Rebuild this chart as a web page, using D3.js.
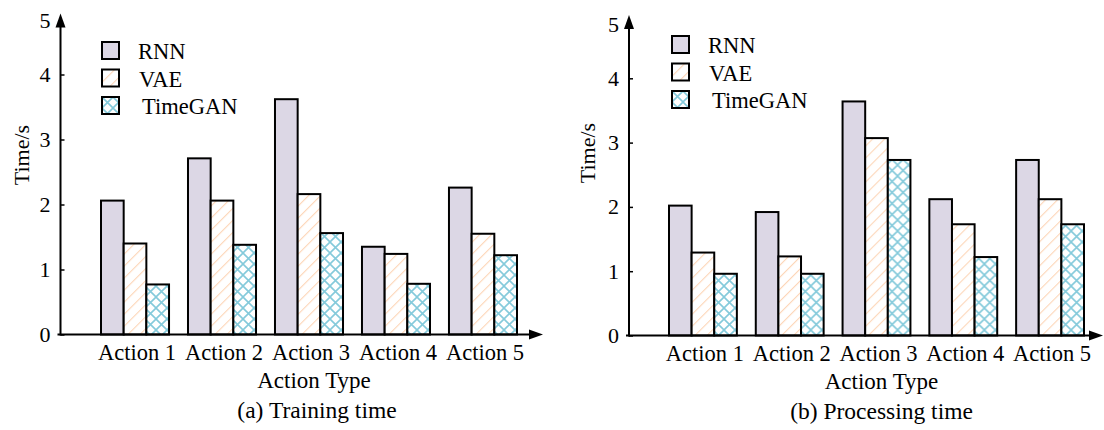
<!DOCTYPE html>
<html>
<head>
<meta charset="utf-8">
<script src="https://cdn.jsdelivr.net/npm/d3@7"></script>
<style>
    body { margin: 0; background: #fff; }
    svg { display: block; font-family: "Liberation Serif", "Times New Roman", serif; }
    text { fill: #000; }
</style>
</head>
<body>
<svg width="1104" height="430"></svg>
<script>
const svg = d3.select("svg")

// data
const actions = ["Action 1", "Action 2", "Action 3", "Action 4", "Action 5"]
const seriesNames = ["RNN", "VAE", "TimeGAN"]
const yTicks = [0, 1, 2, 3, 4, 5]

const trainRNN = [2.06, 2.71, 3.62, 1.35, 2.26]
const trainVAE = [1.40, 2.06, 2.16, 1.24, 1.55]
const trainGAN = [0.77, 1.38, 1.56, 0.78, 1.22]

const procRNN = [2.02, 1.92, 3.64, 2.12, 2.73]
const procVAE = [1.29, 1.23, 3.07, 1.73, 2.12]
const procGAN = [0.96, 0.96, 2.73, 1.22, 1.73]

const fills = ["#dcd7e5", "url(#hatchVAE)", "url(#hatchGAN)"]

// patterns
const defs = svg.append("defs")

const hv = defs.append("pattern")
    .attr("id", "hatchVAE")
    .attr("patternUnits", "userSpaceOnUse")
    .attr("width", 8.5)
    .attr("height", 8.5)
    .attr("patternTransform", "rotate(45)")
hv.append("rect").attr("width", 8.5).attr("height", 8.5).attr("fill", "#fff")
hv.append("line")
    .attr("x1", 0).attr("y1", 0).attr("x2", 0).attr("y2", 8.5)
    .attr("stroke", "#fdd6b8").attr("stroke-width", 2.2)

const hg = defs.append("pattern")
    .attr("id", "hatchGAN")
    .attr("patternUnits", "userSpaceOnUse")
    .attr("width", 11)
    .attr("height", 11)
hg.append("rect").attr("width", 11).attr("height", 11).attr("fill", "#fff")
hg.append("path")
    .attr("d", "M0,0L11,11M11,0L0,11")
    .attr("stroke", "#84cadb").attr("stroke-width", 1.6).attr("fill", "none")

function drawPanel(opts) {
    const g = svg.append("g")
    const data = actions.map((a, i) => ({ action: a, values: opts.values.map(v => v[i]) }))

    const x = d3.scaleBand()
        .domain(actions)
        .range(opts.xRange)
        .paddingInner(0.218)
        .paddingOuter(0)

    const xSub = d3.scaleBand()
        .domain(seriesNames)
        .range([0, x.bandwidth()])

    const y = d3.scaleLinear()
        .domain([0, 5])
        .range(opts.yRange)

    // bars
    const groups = g.selectAll("g.group")
        .data(data)
        .enter()
        .append("g")
        .attr("class", "group")
        .attr("transform", d => `translate(${x(d.action)},0)`)

    groups.selectAll("rect")
        .data(d => d.values.map((v, j) => ({ name: seriesNames[j], value: v, j: j })))
        .enter()
        .append("rect")
        .attr("x", d => xSub(d.name))
        .attr("width", xSub.bandwidth())
        .attr("y", d => y(d.value))
        .attr("height", d => y(0) - y(d.value))
        .attr("fill", d => fills[d.j])
        .attr("stroke", "#000")
        .attr("stroke-width", 2)

    // y axis
    const yAxis = d3.axisLeft(y)
        .tickValues(yTicks.slice(0, -1))
        .tickFormat(d3.format("d"))
        .tickSizeInner(-4)
        .tickSizeOuter(0)
        .tickPadding(10)

    const ay = g.append("g")
        .attr("transform", `translate(${opts.axisX},0)`)
        .call(yAxis)
    ay.select(".domain").remove()
    ay.selectAll(".tick line").attr("stroke", "#000").attr("stroke-width", 1.5)
    ay.selectAll(".tick text")
        .attr("font-size", 22)
        .attr("font-family", "Liberation Serif")
        .attr("fill", "#000")

    // top label sits under the arrow
    g.append("text")
        .attr("x", opts.axisX - 10)
        .attr("y", y(5) + 11)
        .attr("dy", "0.32em")
        .attr("text-anchor", "end")
        .attr("font-size", 22)
        .text(yTicks[yTicks.length - 1])

    const tipY = y(5) + opts.tipDy
    g.append("line")
        .attr("x1", opts.axisX).attr("x2", opts.axisX)
        .attr("y1", y(0) + 1).attr("y2", tipY + 8)
        .attr("stroke", "#000").attr("stroke-width", 2)
    g.append("path")
        .attr("d", `M${opts.axisX},${tipY}L${opts.axisX - 5},${tipY + 14}L${opts.axisX + 5},${tipY + 14}Z`)
        .attr("fill", "#000")

    // x axis with arrow
    g.append("line")
        .attr("x1", opts.axisX - 3).attr("x2", opts.arrowX - 8)
        .attr("y1", y(0)).attr("y2", y(0))
        .attr("stroke", "#000").attr("stroke-width", 2)
    g.append("path")
        .attr("d", `M${opts.arrowX},${y(0)}L${opts.arrowX - 14},${y(0) - 5}L${opts.arrowX - 14},${y(0) + 5}Z`)
        .attr("fill", "#000")

    // category labels
    g.selectAll("text.cat")
        .data(actions)
        .enter()
        .append("text")
        .attr("class", "cat")
        .attr("x", d => x(d) + x.bandwidth() / 2 + 2)
        .attr("y", y(0) + 25)
        .attr("text-anchor", "middle")
        .attr("font-size", 22.5)
        .text(d => d)

    const midX = (opts.xRange[0] + opts.xRange[1]) / 2 + 5

    g.append("text")
        .attr("x", midX)
        .attr("y", y(0) + 53)
        .attr("text-anchor", "middle")
        .attr("font-size", 23)
        .text("Action Type")

    g.append("text")
        .attr("x", midX + opts.captionDx)
        .attr("y", y(0) + 83)
        .attr("text-anchor", "middle")
        .attr("font-size", 23.5)
        .text(opts.caption)

    g.append("text")
        .attr("transform", `translate(${opts.titleX},${opts.titleY}) rotate(-90)`)
        .attr("text-anchor", "middle")
        .attr("dy", "0.35em")
        .attr("font-size", 22)
        .text("Time/s")

    // legend
    const leg = g.selectAll("g.leg")
        .data(seriesNames)
        .enter()
        .append("g")
        .attr("class", "leg")
        .attr("transform", (d, i) => `translate(${opts.legX},${opts.legY + i * 27.5})`)

    leg.append("rect")
        .attr("width", 17)
        .attr("height", 17)
        .attr("fill", (d, i) => fills[i])
        .attr("stroke", "#000")
        .attr("stroke-width", 2)

    leg.append("text")
        .attr("x", (d, i) => 36 + [0, 1, 4][i])
        .attr("y", 17)
        .attr("font-size", 22.5)
        .text(d => d)
}

drawPanel({
    values: [trainRNN, trainVAE, trainGAN],
    xRange: [101, 517],
    yRange: [334.5, 9.5],
    axisX: 60.5,
    tipDy: 4,
    arrowX: 543,
    caption: "(a) Training time",
    captionDx: 3,
    titleX: 21,
    titleY: 155,
    legX: 102,
    legY: 42
})

drawPanel({
    values: [procRNN, procVAE, procGAN],
    xRange: [669, 1084],
    yRange: [335.5, 14],
    axisX: 629,
    tipDy: 1,
    arrowX: 1103,
    caption: "(b) Processing time",
    captionDx: 0,
    titleX: 587,
    titleY: 153,
    legX: 672,
    legY: 36
})
</script>
</body>
</html>
